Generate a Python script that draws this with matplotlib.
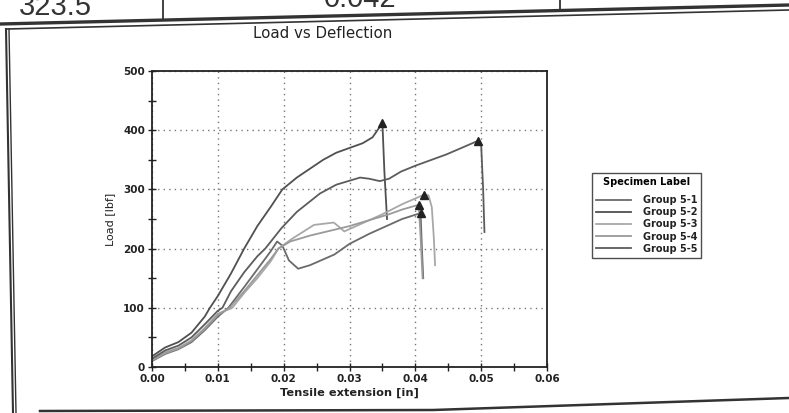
import matplotlib
matplotlib.use("Agg")
import matplotlib.pyplot as plt
from matplotlib.lines import Line2D
from matplotlib.ticker import MultipleLocator, FormatStrFormatter

W, H = 789, 413

# ---- data ----
labels = ["Group 5-1", "Group 5-2", "Group 5-3", "Group 5-4", "Group 5-5"]

# Group 5-1 (curve with dip)
x_g1 = [0, 0.002, 0.004, 0.006, 0.008, 0.010, 0.0116, 0.014, 0.016, 0.018, 0.0190,
        0.0198, 0.0208, 0.0222, 0.024, 0.0277, 0.030, 0.033, 0.036, 0.038, 0.0408,
        0.0410, 0.0412]
y_g1 = [10, 22, 30, 42, 62, 85, 100, 135, 165, 195, 212,
        205, 180, 166, 172, 190, 208, 225, 240, 250, 260,
        200, 150]

# Group 5-2 (highest peak)
x_g2 = [0, 0.002, 0.004, 0.006, 0.008, 0.0088, 0.010, 0.012, 0.014, 0.016, 0.018,
        0.0198, 0.022, 0.024, 0.026, 0.028, 0.030, 0.032, 0.0335, 0.035,
        0.0353, 0.0357]
y_g2 = [18, 33, 42, 58, 85, 100, 120, 158, 200, 238, 270,
        300, 320, 335, 350, 362, 370, 378, 388, 412,
        330, 250]

# Group 5-3 (light, with bump)
x_g3 = [0, 0.002, 0.004, 0.006, 0.008, 0.010, 0.0122, 0.014, 0.016, 0.018, 0.0192,
        0.0212, 0.0246, 0.0276, 0.0285, 0.0292, 0.032, 0.035, 0.038, 0.0413,
        0.0420, 0.0425, 0.0428, 0.0430]
y_g3 = [12, 25, 32, 45, 66, 90, 100, 125, 150, 178, 200,
        216, 240, 244, 236, 229, 243, 258, 275, 291,
        290, 270, 220, 172]

# Group 5-4 (light)
x_g4 = [0, 0.002, 0.004, 0.006, 0.008, 0.010, 0.0118, 0.014, 0.016, 0.018, 0.0192,
        0.021, 0.024, 0.027, 0.030, 0.033, 0.036, 0.038, 0.0405,
        0.0408, 0.0411]
y_g4 = [11, 23, 31, 44, 64, 88, 100, 128, 155, 182, 200,
        212, 222, 230, 238, 248, 258, 266, 274,
        220, 150]

# Group 5-5 (long curve)
x_g5 = [0, 0.002, 0.004, 0.006, 0.008, 0.010, 0.0107, 0.012, 0.014, 0.016, 0.0172,
        0.0197, 0.022, 0.0255, 0.028, 0.0316, 0.033, 0.0346, 0.036, 0.0378, 0.040,
        0.0447, 0.047, 0.0495, 0.0500, 0.0503, 0.0505]
y_g5 = [14, 28, 36, 50, 72, 95, 100, 128, 160, 187, 200,
        235, 262, 293, 308, 320, 318, 314, 318, 330, 340,
        359, 370, 382, 375, 300, 228]

# peak (break) points marked with triangles
peak_x = [0.0408, 0.035, 0.0413, 0.0405, 0.0495]
peak_y = [260, 412, 291, 274, 382]

series_x = [x_g1, x_g2, x_g3, x_g4, x_g5]
series_y = [y_g1, y_g2, y_g3, y_g4, y_g5]
colors = ["#6a6a6a", "#505050", "#a8a8a8", "#9a9a9a", "#5c5c5c"]

x_ticks = [0.00, 0.01, 0.02, 0.03, 0.04, 0.05, 0.06]
y_ticks = [0, 100, 200, 300, 400, 500]

# header row of the scanned table
header_values = ["323.5", "0.042"]

fig = plt.figure(figsize=(W / 100, H / 100), dpi=100)
fig.patch.set_facecolor("white")

def fx(px):
    return px / W

def fy(py):
    return 1 - py / H

ax = fig.add_axes([fx(152), fy(367), fx(547) - fx(152), fy(71) - fy(367)])

for xs, ys, c, lab in zip(series_x, series_y, colors, labels):
    ax.plot(xs, ys, color=c, lw=1.3, label=lab)
ax.plot(peak_x, peak_y, linestyle="none", marker="^", color="#222222", markersize=5.5)

ax.set_xlim(0, 0.06)
ax.set_ylim(0, 500)
ax.set_xticks(x_ticks)
ax.set_yticks(y_ticks)
ax.xaxis.set_major_formatter(FormatStrFormatter("%.2f"))
ax.xaxis.set_minor_locator(MultipleLocator(0.005))
ax.yaxis.set_minor_locator(MultipleLocator(50))
ax.tick_params(which="both", direction="inout", length=6, width=1.0, color="#222222")
ax.tick_params(which="major", labelsize=7.5, pad=2)
for lab in ax.get_xticklabels() + ax.get_yticklabels():
    lab.set_fontweight("bold")
    lab.set_color("#222222")
ax.grid(True, which="major", linestyle=(0, (1, 3)), color="#777777", lw=1.0)
for s in ax.spines.values():
    s.set_linewidth(1.3)
    s.set_color("#222222")

ax.set_xlabel("Tensile extension [in]", fontsize=8.2, fontweight="bold", color="#222222", labelpad=3)
ax.set_ylabel("Load [lbf]", fontsize=8, color="#222222", labelpad=6)
fig.text(fx(323), fy(33), "Load vs Deflection", fontsize=10.8, ha="center", va="center", color="#222222")

# legend
handles = [Line2D([0], [0], color=c, lw=1.3) for c in colors]
leg = fig.legend(handles, labels, loc="upper left", bbox_to_anchor=(fx(592), fy(173)),
                 title="Specimen Label", fontsize=7, title_fontproperties={"weight": "bold", "size": 7},
                 frameon=True, fancybox=False, edgecolor="#222222", handlelength=3.6,
                 handletextpad=1.2, labelspacing=0.22, borderpad=0.4, borderaxespad=0)
leg.get_frame().set_linewidth(1.0)
leg._legend_box.sep = 6
for t in leg.get_texts():
    t.set_fontweight("bold")
    t.set_color("#222222")

# scanned page elements: table row and frame
fig.text(fx(19), fy(15), header_values[0], fontsize=21, family="Liberation Sans", color="#333333",
         va="baseline")
fig.text(fx(360), fy(7), header_values[1], fontsize=21, family="Liberation Sans", color="#333333",
         va="baseline", ha="center")
line_kw = dict(color="#333333", transform=fig.transFigure)
fig.add_artist(Line2D([fx(163), fx(163)], [fy(0), fy(20)], lw=1.3, **line_kw))
fig.add_artist(Line2D([fx(560), fx(560)], [fy(0), fy(10)], lw=1.3, **line_kw))
fig.add_artist(Line2D([fx(0), fx(789)], [fy(24), fy(5)], lw=2.4, **line_kw))
fig.add_artist(Line2D([fx(7), fx(789)], [fy(29), fy(10)], lw=1.2, **line_kw))
fig.add_artist(Line2D([fx(6), fx(13)], [fy(29), fy(413)], lw=1.5, **line_kw))
fig.add_artist(Line2D([fx(9), fx(16)], [fy(29), fy(413)], lw=1.0, **line_kw))
fig.add_artist(Line2D([fx(40), fx(433), fx(789)], [fy(411), fy(410), fy(398)], lw=1.8, **line_kw))

fig.savefig("out.png", dpi=100, facecolor="white")
